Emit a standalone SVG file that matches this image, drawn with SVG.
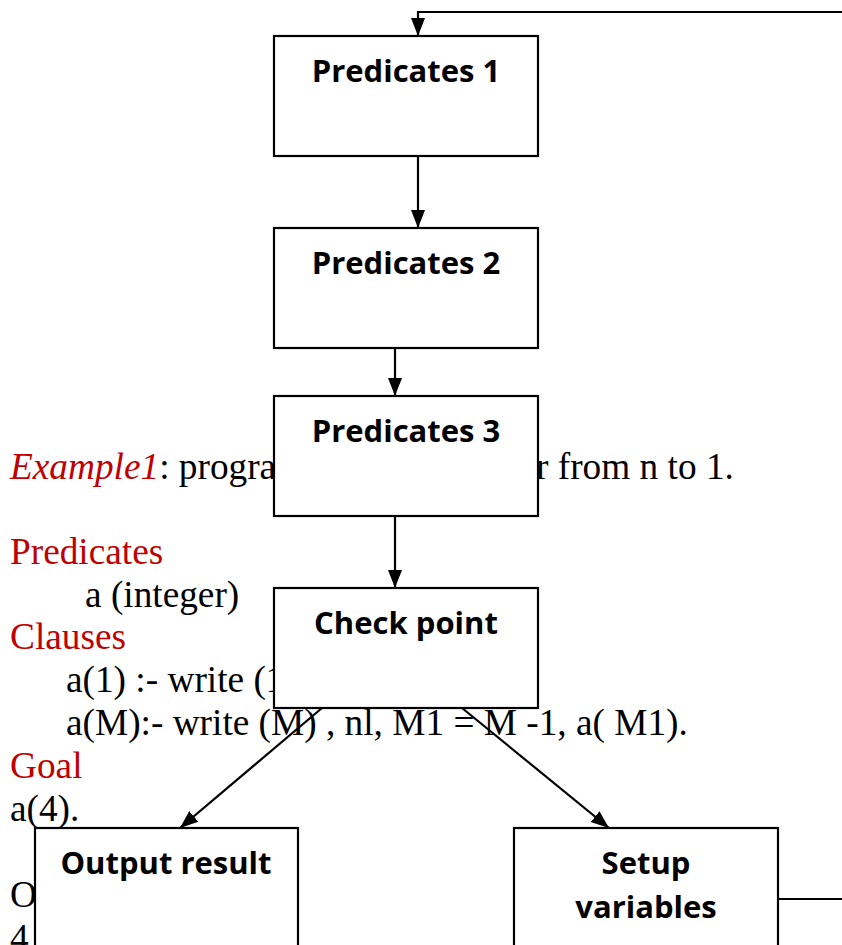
<svg xmlns="http://www.w3.org/2000/svg" width="842" height="945" viewBox="0 0 842 945">
  <style>
    .doc { font-family: "Liberation Serif", "Times New Roman", serif; font-size: 37.3px; fill: #000; }
    .red { fill: #c00000; }
    .box { fill: #fff; stroke: #000; stroke-width: 2.2; }
    .lbl { font-family: "Open Sans", Lato, "Liberation Sans", sans-serif; font-weight: bold; font-size: 31px; fill: #000; text-anchor: middle; }
    .wire { fill: none; stroke: #000; stroke-width: 2.2; }
  </style>
  <defs>
    <marker id="arrow" markerUnits="userSpaceOnUse" markerWidth="18" markerHeight="16" viewBox="0 0 18 16" refX="18" refY="8" orient="auto">
      <path d="M0,1 L18,8 L0,15 Z" fill="#000"/>
    </marker>
  </defs>

  <!-- page text behind the flowchart -->
  <g id="page-text" class="doc">
    <text x="10" y="479"><tspan class="red" font-style="italic">Example1</tspan>: progra</text>
    <text x="536" y="479">r from n to 1.</text>
    <text x="10" y="564" class="red">Predicates</text>
    <text x="85" y="607">a (integer)</text>
    <text x="10" y="649" class="red">Clauses</text>
    <text x="66" y="692">a(1) :- write (1</text>
    <text x="66" y="735">a(M):- write (M) , nl, M1 = M -1, a( M1).</text>
    <text x="10" y="778" class="red">Goal</text>
    <text x="10" y="821">a(4).</text>
    <text x="10" y="907">O</text>
    <text x="10" y="950">4</text>
  </g>

  <!-- flowchart nodes -->
  <g id="pred1">
    <rect class="box" x="274" y="36" width="264" height="120"/>
    <text class="lbl" x="406" y="82">Predicates 1</text>
  </g>
  <g id="pred2">
    <rect class="box" x="274" y="228" width="264" height="120"/>
    <text class="lbl" x="406" y="274">Predicates 2</text>
  </g>
  <g id="pred3">
    <rect class="box" x="274" y="396" width="264" height="120"/>
    <text class="lbl" x="406" y="442">Predicates 3</text>
  </g>
  <g id="checkpoint">
    <rect class="box" x="274" y="588" width="264" height="120"/>
    <text class="lbl" x="406" y="634">Check point</text>
  </g>
  <g id="output">
    <rect class="box" x="35" y="828" width="263" height="140"/>
    <text class="lbl" x="166" y="874">Output result</text>
  </g>
  <g id="setup">
    <rect class="box" x="514" y="828" width="264" height="140"/>
    <text class="lbl" x="646" y="874">Setup</text>
    <text class="lbl" x="646" y="918">variables</text>
  </g>

  <!-- connectors -->
  <g id="connectors" class="wire">
    <polyline points="842,12 418,12 418,36" marker-end="url(#arrow)"/>
    <line x1="418" y1="156" x2="418" y2="228" marker-end="url(#arrow)"/>
    <line x1="395" y1="348" x2="395" y2="396" marker-end="url(#arrow)"/>
    <line x1="395" y1="516" x2="395" y2="588" marker-end="url(#arrow)"/>
    <line x1="322" y1="708" x2="180" y2="828" marker-end="url(#arrow)"/>
    <line x1="462" y1="708" x2="609" y2="828" marker-end="url(#arrow)"/>
    <line x1="778" y1="899" x2="842" y2="899"/>
  </g>
</svg>
